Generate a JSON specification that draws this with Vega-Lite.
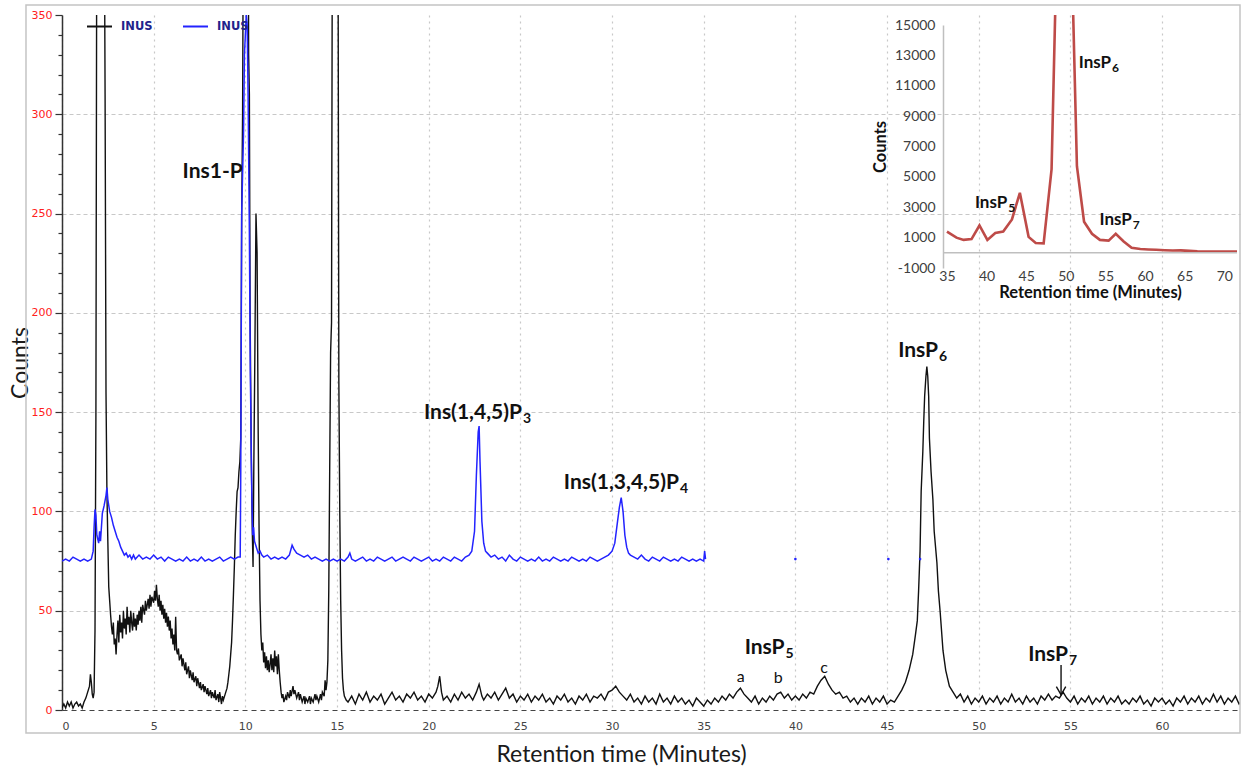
{
  "$schema": "https://vega.github.io/schema/vega-lite/v6.json",
  "width": 1178,
  "height": 695,
  "autosize": {"type": "none"},
  "padding": {"left": 62, "top": 15, "right": 2, "bottom": 60},
  "background": "white",
  "config": {"view": {"stroke": null}, "axis": {"labelOverlap": false}},
  "datasets": {
    "black": [
      {"t":0,"c":1},{"t":0.1,"c":3},{"t":0.2,"c":1},{"t":0.3,"c":4},{"t":0.4,"c":2},{"t":0.5,"c":4},{"t":0.6,"c":1},{"t":0.7,"c":3},{"t":0.8,"c":4},{"t":0.9,"c":2},{"t":1.0,"c":3},{"t":1.1,"c":1},{"t":1.2,"c":4},{"t":1.3,"c":6},{"t":1.4,"c":9},{"t":1.5,"c":12},{"t":1.55,"c":18},{"t":1.6,"c":14},{"t":1.65,"c":8},{"t":1.7,"c":6},{"t":1.75,"c":9},{"t":1.8,"c":40},{"t":1.85,"c":150},{"t":1.9,"c":420},{"t":2.3,"c":420},{"t":2.35,"c":310},{"t":2.4,"c":160},{"t":2.45,"c":110},{"t":2.5,"c":85},{"t":2.55,"c":62},{"t":2.6,"c":55},{"t":2.65,"c":48},{"t":2.7,"c":42},{"t":2.75,"c":38},{"t":2.8,"c":44},{"t":2.85,"c":33},{"t":2.9,"c":36},{"t":2.95,"c":28},{"t":3.0,"c":38},{"t":3.05,"c":45},{"t":3.1,"c":34},{"t":3.15,"c":48},{"t":3.2,"c":39},{"t":3.25,"c":44},{"t":3.3,"c":36},{"t":3.35,"c":50},{"t":3.4,"c":41},{"t":3.45,"c":46},{"t":3.5,"c":38},{"t":3.55,"c":52},{"t":3.6,"c":43},{"t":3.65,"c":47},{"t":3.7,"c":39},{"t":3.75,"c":50},{"t":3.8,"c":44},{"t":3.85,"c":40},{"t":3.9,"c":49},{"t":3.95,"c":42},{"t":4.0,"c":46},{"t":4.05,"c":40},{"t":4.1,"c":48},{"t":4.15,"c":43},{"t":4.2,"c":50},{"t":4.25,"c":45},{"t":4.3,"c":52},{"t":4.35,"c":44},{"t":4.4,"c":53},{"t":4.5,"c":48},{"t":4.55,"c":55},{"t":4.6,"c":50},{"t":4.7,"c":56},{"t":4.75,"c":51},{"t":4.8,"c":58},{"t":4.85,"c":52},{"t":4.9,"c":57},{"t":5.0,"c":54},{"t":5.05,"c":60},{"t":5.1,"c":55},{"t":5.15,"c":63},{"t":5.2,"c":56},{"t":5.25,"c":52},{"t":5.3,"c":58},{"t":5.35,"c":50},{"t":5.4,"c":55},{"t":5.45,"c":48},{"t":5.5,"c":53},{"t":5.55,"c":46},{"t":5.6,"c":51},{"t":5.65,"c":44},{"t":5.7,"c":49},{"t":5.75,"c":42},{"t":5.8,"c":47},{"t":5.85,"c":40},{"t":5.9,"c":45},{"t":5.95,"c":36},{"t":6.0,"c":41},{"t":6.05,"c":33},{"t":6.1,"c":38},{"t":6.15,"c":30},{"t":6.2,"c":47},{"t":6.25,"c":30},{"t":6.3,"c":28},{"t":6.35,"c":31},{"t":6.4,"c":25},{"t":6.5,"c":28},{"t":6.55,"c":22},{"t":6.6,"c":26},{"t":6.7,"c":20},{"t":6.75,"c":24},{"t":6.8,"c":18},{"t":6.9,"c":22},{"t":6.95,"c":16},{"t":7.0,"c":20},{"t":7.1,"c":15},{"t":7.15,"c":19},{"t":7.2,"c":14},{"t":7.3,"c":17},{"t":7.35,"c":12},{"t":7.4,"c":16},{"t":7.5,"c":11},{"t":7.55,"c":14},{"t":7.6,"c":10},{"t":7.7,"c":13},{"t":7.75,"c":9},{"t":7.8,"c":12},{"t":7.9,"c":8},{"t":7.95,"c":11},{"t":8.0,"c":7},{"t":8.1,"c":10},{"t":8.15,"c":6},{"t":8.2,"c":9},{"t":8.3,"c":6},{"t":8.35,"c":10},{"t":8.4,"c":5},{"t":8.5,"c":8},{"t":8.55,"c":4},{"t":8.6,"c":9},{"t":8.7,"c":3},{"t":8.75,"c":7},{"t":8.8,"c":5},{"t":8.9,"c":8},{"t":9.0,"c":11},{"t":9.05,"c":14},{"t":9.1,"c":18},{"t":9.15,"c":22},{"t":9.2,"c":28},{"t":9.25,"c":34},{"t":9.3,"c":45},{"t":9.35,"c":58},{"t":9.4,"c":72},{"t":9.45,"c":88},{"t":9.5,"c":100},{"t":9.55,"c":110},{"t":9.6,"c":112},{"t":9.65,"c":120},{"t":9.7,"c":125},{"t":9.75,"c":137},{"t":9.8,"c":250},{"t":9.85,"c":300},{"t":9.9,"c":420},{"t":10.15,"c":420},{"t":10.18,"c":330},{"t":10.22,"c":310},{"t":10.26,"c":200},{"t":10.32,"c":130},{"t":10.38,"c":90},{"t":10.42,"c":72},{"t":10.46,"c":120},{"t":10.52,"c":180},{"t":10.58,"c":250},{"t":10.64,"c":230},{"t":10.7,"c":140},{"t":10.75,"c":90},{"t":10.8,"c":55},{"t":10.85,"c":38},{"t":10.9,"c":30},{"t":10.95,"c":34},{"t":11.0,"c":24},{"t":11.05,"c":29},{"t":11.1,"c":21},{"t":11.15,"c":27},{"t":11.2,"c":20},{"t":11.25,"c":25},{"t":11.3,"c":19},{"t":11.35,"c":23},{"t":11.4,"c":28},{"t":11.45,"c":20},{"t":11.5,"c":26},{"t":11.55,"c":19},{"t":11.6,"c":30},{"t":11.65,"c":22},{"t":11.7,"c":27},{"t":11.75,"c":18},{"t":11.8,"c":28},{"t":11.85,"c":20},{"t":11.9,"c":14},{"t":11.95,"c":9},{"t":12.0,"c":6},{"t":12.05,"c":8},{"t":12.1,"c":4},{"t":12.2,"c":7},{"t":12.25,"c":5},{"t":12.3,"c":9},{"t":12.4,"c":6},{"t":12.45,"c":10},{"t":12.5,"c":7},{"t":12.6,"c":12},{"t":12.65,"c":8},{"t":12.7,"c":10},{"t":12.8,"c":6},{"t":12.9,"c":9},{"t":12.95,"c":5},{"t":13.0,"c":8},{"t":13.1,"c":4},{"t":13.2,"c":7},{"t":13.25,"c":3},{"t":13.3,"c":6},{"t":13.4,"c":4},{"t":13.5,"c":7},{"t":13.55,"c":3},{"t":13.6,"c":6},{"t":13.7,"c":4},{"t":13.8,"c":8},{"t":13.85,"c":5},{"t":13.9,"c":7},{"t":14.0,"c":4},{"t":14.1,"c":8},{"t":14.15,"c":5},{"t":14.2,"c":9},{"t":14.3,"c":7},{"t":14.35,"c":15},{"t":14.4,"c":10},{"t":14.45,"c":14},{"t":14.5,"c":25},{"t":14.55,"c":60},{"t":14.6,"c":120},{"t":14.65,"c":180},{"t":14.7,"c":195},{"t":14.75,"c":420},{"t":15.05,"c":420},{"t":15.1,"c":165},{"t":15.15,"c":100},{"t":15.2,"c":55},{"t":15.25,"c":30},{"t":15.3,"c":16},{"t":15.35,"c":10},{"t":15.4,"c":7},{"t":15.5,"c":5},
      {"t":15.6,"c":4},{"t":15.8,"c":7},{"t":16.0,"c":3},{"t":16.2,"c":8},{"t":16.4,"c":5},{"t":16.6,"c":9},{"t":16.8,"c":4},{"t":17.0,"c":7},{"t":17.2,"c":5},{"t":17.4,"c":8},{"t":17.6,"c":3},{"t":17.8,"c":6},{"t":18.0,"c":9},{"t":18.2,"c":5},{"t":18.4,"c":7},{"t":18.6,"c":4},{"t":18.8,"c":8},{"t":19.0,"c":6},{"t":19.2,"c":9},{"t":19.4,"c":5},{"t":19.6,"c":7},{"t":19.8,"c":4},{"t":20.0,"c":8},{"t":20.2,"c":6},{"t":20.4,"c":9},{"t":20.5,"c":12},{"t":20.6,"c":17},{"t":20.7,"c":9},{"t":20.8,"c":5},{"t":21.0,"c":7},{"t":21.2,"c":4},{"t":21.4,"c":8},{"t":21.6,"c":5},{"t":21.8,"c":9},{"t":22.0,"c":6},{"t":22.2,"c":8},{"t":22.4,"c":5},{"t":22.6,"c":9},{"t":22.75,"c":13},{"t":22.9,"c":7},{"t":23.0,"c":5},{"t":23.2,"c":8},{"t":23.4,"c":6},{"t":23.6,"c":9},{"t":23.8,"c":5},{"t":24.0,"c":8},{"t":24.2,"c":11},{"t":24.4,"c":6},{"t":24.6,"c":8},{"t":24.8,"c":4},{"t":25.0,"c":7},{"t":25.2,"c":5},{"t":25.4,"c":8},{"t":25.6,"c":4},{"t":25.8,"c":7},{"t":26.0,"c":5},{"t":26.2,"c":8},{"t":26.4,"c":4},{"t":26.6,"c":6},{"t":26.8,"c":3},{"t":27.0,"c":7},{"t":27.2,"c":5},{"t":27.4,"c":8},{"t":27.6,"c":4},{"t":27.8,"c":6},{"t":28.0,"c":3},{"t":28.2,"c":7},{"t":28.4,"c":5},{"t":28.6,"c":8},{"t":28.8,"c":4},{"t":29.0,"c":7},{"t":29.2,"c":6},{"t":29.4,"c":8},{"t":29.6,"c":5},{"t":29.8,"c":9},{"t":30.0,"c":10},{"t":30.2,"c":12},{"t":30.4,"c":9},{"t":30.6,"c":7},{"t":30.8,"c":5},{"t":31.0,"c":8},{"t":31.2,"c":4},{"t":31.4,"c":6},{"t":31.6,"c":3},{"t":31.8,"c":7},{"t":32.0,"c":4},{"t":32.2,"c":6},{"t":32.4,"c":3},{"t":32.6,"c":8},{"t":32.8,"c":4},{"t":33.0,"c":6},{"t":33.2,"c":3},{"t":33.4,"c":7},{"t":33.6,"c":4},{"t":33.8,"c":6},{"t":34.0,"c":3},{"t":34.2,"c":5},{"t":34.4,"c":2},{"t":34.6,"c":6},{"t":34.8,"c":4},{"t":35.0,"c":2},{"t":35.2,"c":5},{"t":35.4,"c":3},{"t":35.6,"c":6},{"t":35.8,"c":4},{"t":36.0,"c":7},{"t":36.2,"c":5},{"t":36.4,"c":8},{"t":36.6,"c":6},{"t":36.8,"c":9},{"t":37.0,"c":11},{"t":37.2,"c":8},{"t":37.4,"c":6},{"t":37.6,"c":4},{"t":37.8,"c":7},{"t":38.0,"c":3},{"t":38.2,"c":6},{"t":38.4,"c":4},{"t":38.6,"c":7},{"t":38.8,"c":5},{"t":39.0,"c":8},{"t":39.2,"c":9},{"t":39.4,"c":6},{"t":39.6,"c":8},{"t":39.8,"c":5},{"t":40.0,"c":7},{"t":40.2,"c":5},{"t":40.4,"c":8},{"t":40.6,"c":6},{"t":40.8,"c":9},{"t":41.0,"c":8},{"t":41.2,"c":12},{"t":41.4,"c":15},{"t":41.6,"c":17},{"t":41.8,"c":13},{"t":42.0,"c":10},{"t":42.2,"c":8},{"t":42.4,"c":9},{"t":42.6,"c":6},{"t":42.8,"c":7},{"t":43.0,"c":4},{"t":43.2,"c":6},{"t":43.4,"c":3},{"t":43.6,"c":6},{"t":43.8,"c":4},{"t":44.0,"c":7},{"t":44.2,"c":3},{"t":44.4,"c":6},{"t":44.6,"c":4},{"t":44.8,"c":7},{"t":45.0,"c":3},{"t":45.2,"c":5},{"t":45.4,"c":4},{"t":45.6,"c":7},{"t":45.8,"c":10},{"t":46.0,"c":14},{"t":46.2,"c":20},{"t":46.4,"c":28},{"t":46.55,"c":38},{"t":46.65,"c":45},{"t":46.72,"c":60},{"t":46.8,"c":80},{"t":46.86,"c":110},{"t":46.95,"c":130},{"t":47.0,"c":145},{"t":47.05,"c":158},{"t":47.12,"c":168},{"t":47.17,"c":173},{"t":47.22,"c":168},{"t":47.27,"c":158},{"t":47.31,"c":137},{"t":47.4,"c":120},{"t":47.5,"c":106},{"t":47.57,"c":90},{"t":47.72,"c":74},{"t":47.8,"c":60},{"t":47.9,"c":49},{"t":48.05,"c":30},{"t":48.2,"c":20},{"t":48.4,"c":12},{"t":48.6,"c":9},{"t":48.8,"c":6},{"t":49.0,"c":8},{"t":49.2,"c":4},{"t":49.4,"c":7},{"t":49.6,"c":3},{"t":49.8,"c":6},{"t":50.0,"c":4},{"t":50.2,"c":7},{"t":50.4,"c":3},{"t":50.6,"c":6},{"t":50.8,"c":4},{"t":51.0,"c":7},{"t":51.2,"c":3},{"t":51.4,"c":6},{"t":51.6,"c":4},{"t":51.8,"c":8},{"t":52.0,"c":4},{"t":52.2,"c":6},{"t":52.4,"c":3},{"t":52.6,"c":7},{"t":52.8,"c":4},{"t":53.0,"c":6},{"t":53.2,"c":3},{"t":53.4,"c":7},{"t":53.6,"c":5},{"t":53.8,"c":8},{"t":54.0,"c":5},{"t":54.2,"c":7},{"t":54.4,"c":6},{"t":54.6,"c":9},{"t":54.8,"c":6},{"t":55.0,"c":4},{"t":55.2,"c":7},{"t":55.4,"c":3},{"t":55.6,"c":6},{"t":55.8,"c":4},{"t":56.0,"c":7},{"t":56.2,"c":3},{"t":56.4,"c":6},{"t":56.6,"c":4},{"t":56.8,"c":7},{"t":57.0,"c":3},{"t":57.2,"c":6},{"t":57.4,"c":4},{"t":57.6,"c":7},{"t":57.8,"c":3},{"t":58.0,"c":5},{"t":58.2,"c":3},{"t":58.4,"c":6},{"t":58.6,"c":4},{"t":58.8,"c":7},{"t":59.0,"c":3},{"t":59.2,"c":5},{"t":59.4,"c":2},{"t":59.6,"c":6},{"t":59.8,"c":4},{"t":60.0,"c":6},{"t":60.2,"c":3},{"t":60.4,"c":5},{"t":60.6,"c":2},{"t":60.8,"c":6},{"t":61.0,"c":4},{"t":61.2,"c":7},{"t":61.4,"c":3},{"t":61.6,"c":6},{"t":61.8,"c":4},{"t":62.0,"c":7},{"t":62.2,"c":3},{"t":62.4,"c":6},{"t":62.6,"c":4},{"t":62.8,"c":8},{"t":63.0,"c":4},{"t":63.2,"c":7},{"t":63.4,"c":3},{"t":63.6,"c":6},{"t":63.8,"c":4},{"t":64.0,"c":7},{"t":64.2,"c":3},{"t":64.4,"c":5}
    ],
    "blue": [
      {"t":0,"c":75},{"t":0.2,"c":76},{"t":0.4,"c":75},{"t":0.6,"c":77},{"t":0.8,"c":76},{"t":1.0,"c":75},{"t":1.2,"c":76},{"t":1.4,"c":75},{"t":1.6,"c":76},{"t":1.7,"c":80},{"t":1.75,"c":92},{"t":1.8,"c":101},{"t":1.85,"c":98},{"t":1.9,"c":88},{"t":2.0,"c":84},{"t":2.05,"c":90},{"t":2.1,"c":85},{"t":2.2,"c":99},{"t":2.3,"c":103},{"t":2.4,"c":108},{"t":2.45,"c":112},{"t":2.5,"c":106},{"t":2.6,"c":100},{"t":2.7,"c":97},{"t":2.8,"c":93},{"t":2.9,"c":90},{"t":3.0,"c":87},{"t":3.1,"c":85},{"t":3.2,"c":82},{"t":3.3,"c":80},{"t":3.4,"c":78},{"t":3.5,"c":79},{"t":3.6,"c":77},{"t":3.7,"c":78},{"t":3.8,"c":76},{"t":3.9,"c":78},{"t":4.0,"c":76},{"t":4.2,"c":78},{"t":4.4,"c":76},{"t":4.6,"c":77},{"t":4.8,"c":76},{"t":5.0,"c":78},{"t":5.2,"c":76},{"t":5.4,"c":77},{"t":5.6,"c":75},{"t":5.8,"c":77},{"t":6.0,"c":76},{"t":6.2,"c":75},{"t":6.4,"c":76},{"t":6.6,"c":75},{"t":6.8,"c":77},{"t":7.0,"c":75},{"t":7.2,"c":76},{"t":7.4,"c":75},{"t":7.6,"c":77},{"t":7.8,"c":75},{"t":8.0,"c":76},{"t":8.2,"c":75},{"t":8.4,"c":76},{"t":8.6,"c":77},{"t":8.8,"c":75},{"t":9.0,"c":76},{"t":9.2,"c":77},{"t":9.4,"c":76},{"t":9.6,"c":77},{"t":9.72,"c":77},{"t":9.75,"c":120},{"t":9.8,"c":250},{"t":9.9,"c":290},{"t":9.95,"c":330},{"t":10.05,"c":350},{"t":10.1,"c":345},{"t":10.15,"c":310},{"t":10.22,"c":240},{"t":10.27,"c":170},{"t":10.3,"c":150},{"t":10.35,"c":110},{"t":10.4,"c":88},{"t":10.45,"c":92},{"t":10.5,"c":85},{"t":10.6,"c":82},{"t":10.7,"c":79},{"t":10.8,"c":80},{"t":10.9,"c":78},{"t":11.0,"c":77},{"t":11.2,"c":78},{"t":11.4,"c":76},{"t":11.6,"c":77},{"t":11.8,"c":76},{"t":12.0,"c":77},{"t":12.2,"c":76},{"t":12.4,"c":78},{"t":12.55,"c":83},{"t":12.65,"c":81},{"t":12.8,"c":79},{"t":13.0,"c":78},{"t":13.2,"c":77},{"t":13.4,"c":78},{"t":13.6,"c":76},{"t":13.8,"c":77},{"t":14.0,"c":76},{"t":14.2,"c":75},{"t":14.4,"c":76},{"t":14.6,"c":75},{"t":14.8,"c":76},{"t":15.0,"c":75},{"t":15.2,"c":76},{"t":15.4,"c":75},{"t":15.6,"c":77},{"t":15.7,"c":79},{"t":15.8,"c":76},{"t":16.0,"c":75},{"t":16.2,"c":76},{"t":16.4,"c":77},{"t":16.6,"c":75},{"t":16.8,"c":76},{"t":17.0,"c":75},{"t":17.2,"c":77},{"t":17.4,"c":76},{"t":17.6,"c":75},{"t":17.8,"c":76},{"t":18.0,"c":77},{"t":18.2,"c":75},{"t":18.4,"c":76},{"t":18.6,"c":77},{"t":18.8,"c":76},{"t":19.0,"c":75},{"t":19.2,"c":77},{"t":19.4,"c":76},{"t":19.6,"c":75},{"t":19.8,"c":76},{"t":20.0,"c":77},{"t":20.2,"c":75},{"t":20.4,"c":76},{"t":20.6,"c":75},{"t":20.8,"c":77},{"t":21.0,"c":76},{"t":21.2,"c":75},{"t":21.4,"c":77},{"t":21.6,"c":76},{"t":21.8,"c":75},{"t":22.0,"c":77},{"t":22.2,"c":78},{"t":22.35,"c":80},{"t":22.5,"c":90},{"t":22.6,"c":118},{"t":22.7,"c":140},{"t":22.75,"c":143},{"t":22.8,"c":125},{"t":22.9,"c":95},{"t":23.0,"c":84},{"t":23.1,"c":80},{"t":23.2,"c":79},{"t":23.4,"c":77},{"t":23.6,"c":78},{"t":23.8,"c":76},{"t":24.0,"c":77},{"t":24.2,"c":75},{"t":24.4,"c":78},{"t":24.6,"c":76},{"t":24.8,"c":75},{"t":25.0,"c":77},{"t":25.2,"c":76},{"t":25.4,"c":75},{"t":25.6,"c":76},{"t":25.8,"c":75},{"t":26.0,"c":77},{"t":26.2,"c":75},{"t":26.4,"c":76},{"t":26.6,"c":75},{"t":26.8,"c":77},{"t":27.0,"c":76},{"t":27.2,"c":75},{"t":27.4,"c":76},{"t":27.6,"c":75},{"t":27.8,"c":77},{"t":28.0,"c":76},{"t":28.2,"c":75},{"t":28.4,"c":76},{"t":28.6,"c":75},{"t":28.8,"c":77},{"t":29.0,"c":76},{"t":29.2,"c":75},{"t":29.4,"c":76},{"t":29.6,"c":77},{"t":29.8,"c":78},{"t":30.0,"c":80},{"t":30.15,"c":84},{"t":30.3,"c":95},{"t":30.4,"c":102},{"t":30.5,"c":107},{"t":30.6,"c":100},{"t":30.7,"c":88},{"t":30.8,"c":82},{"t":30.9,"c":79},{"t":31.0,"c":78},{"t":31.2,"c":77},{"t":31.4,"c":76},{"t":31.6,"c":78},{"t":31.8,"c":76},{"t":32.0,"c":75},{"t":32.2,"c":77},{"t":32.4,"c":76},{"t":32.6,"c":75},{"t":32.8,"c":77},{"t":33.0,"c":76},{"t":33.2,"c":75},{"t":33.4,"c":76},{"t":33.6,"c":75},{"t":33.8,"c":77},{"t":34.0,"c":76},{"t":34.2,"c":75},{"t":34.4,"c":76},{"t":34.6,"c":75},{"t":34.8,"c":76},{"t":35.0,"c":75},{"t":35.05,"c":80},{"t":35.1,"c":76}
    ],
    "bluedots": [{"t":40.0,"c":76},{"t":45.07,"c":76},{"t":46.8,"c":76}],
    "red": [
      {"t":35.0,"c":1400},{"t":36.2,"c":1000},{"t":37.1,"c":850},{"t":38.1,"c":900},{"t":39.1,"c":1800},{"t":40.1,"c":850},{"t":41.1,"c":1300},{"t":42.1,"c":1400},{"t":43.2,"c":2200},{"t":44.2,"c":3950},{"t":45.3,"c":1050},{"t":46.2,"c":650},{"t":47.2,"c":620},{"t":48.2,"c":5500},{"t":49.2,"c":28000},{"t":50.3,"c":29000},{"t":51.4,"c":5700},{"t":52.3,"c":2050},{"t":53.3,"c":1250},{"t":54.3,"c":850},{"t":55.4,"c":800},{"t":56.3,"c":1250},{"t":57.3,"c":750},{"t":58.3,"c":330},{"t":59.4,"c":250},{"t":60.4,"c":220},{"t":61.4,"c":200},{"t":62.5,"c":170},{"t":63.5,"c":150},{"t":64.5,"c":160},{"t":65.6,"c":130},{"t":66.6,"c":100},{"t":67.6,"c":90},{"t":68.7,"c":85},{"t":69.7,"c":80},{"t":70.7,"c":80},{"t":71.6,"c":75}
    ],
    "mainlabels": [
      {"label":"Ins1-P","sub":"","t":9.86,"c":267.8},
      {"label":"Ins(1,4,5)P","sub":"3","t":25.09,"c":146.3},
      {"label":"Ins(1,3,4,5)P","sub":"4","t":33.65,"c":111.4},
      {"label":"InsP","sub":"6","t":47.78,"c":177.6},
      {"label":"InsP","sub":"5","t":39.41,"c":28.2},
      {"label":"InsP","sub":"7","t":54.87,"c":24.8}
    ],
    "letters": [
      {"label":"a","t":37.02,"c":14.3},
      {"label":"b","t":39.07,"c":13.4},
      {"label":"c","t":41.57,"c":18.4}
    ],
    "insetlabels": [
      {"label":"InsP","sub":"6","t":55.7,"c":12200},
      {"label":"InsP","sub":"5","t":42.6,"c":2960},
      {"label":"InsP","sub":"7","t":58.32,"c":1860}
    ]
  },
  "layer": [
    {
      "layer": [
        {
          "data": {"name": "black"},
          "mark": {"type": "line", "clip": true, "strokeWidth": 1.4},
          "encoding": {
            "x": {"field": "t", "type": "quantitative", "title": "Retention time (Minutes)",
              "scale": {"domain": [0, 64.25], "nice": false, "zero": false},
              "axis": {
                "values": [0,5,10,15,20,25,30,35,40,45,50,55,60],
                "domain": false, "ticks": false, "labelOverlap": false,
                "labelFont": "DejaVu Sans", "labelFontSize": 11, "labelColor": "#444444", "labelPadding": 10,
                "grid": true, "gridColor": "#c8c8c8", "gridDash": [2, 4], "gridWidth": 1.2,
                "titleFont": "Lato", "titleFontSize": 23, "titleFontWeight": "normal", "titleColor": "#1a1a1a",
                "titlePadding": 12, "titleX": 559, "titleAlign": "center"
              }
            },
            "y": {"field": "c", "type": "quantitative", "title": "Counts",
              "scale": {"domain": [0, 350], "nice": false},
              "axis": {
                "values": [0,50,100,150,200,250,300,350],
                "labelOverlap": false, "labelBound": false, "labelFlush": false,
                "domain": true, "domainColor": "#333333", "domainWidth": 1.5,
                "ticks": true, "tickColor": "#333333", "tickWidth": 1.2, "tickSize": 7,
                "labelFont": "DejaVu Sans", "labelFontSize": 11, "labelColor": "#ff2020", "labelPadding": 3,
                "grid": true,
                "gridOpacity": {"condition": {"test": "datum.value > 340", "value": 0}, "value": 1},
                "gridColor": {"condition": {"test": "datum.value < 1", "value": "#444444"}, "value": "#c8c8c8"},
                "gridDash": {"condition": {"test": "datum.value < 1", "value": [5, 4]}, "value": [4, 3]},
                "gridWidth": 1.2,
                "titleFont": "Lato", "titleFontSize": 23, "titleFontWeight": "normal", "titleColor": "#1a1a1a",
                "titlePadding": -1
              }
            },
            "color": {"datum": "INUS-A", "type": "nominal",
              "scale": {"domain": ["INUS-A", "INUS-B"], "range": ["#111111", "#2323ff"]},
              "legend": {
                "orient": "none", "legendX": 24, "legendY": -2, "direction": "horizontal", "title": null,
                "symbolType": "stroke", "symbolSize": 625, "symbolStrokeWidth": 2,
                "labelExpr": "'INUS'", "labelFont": "DejaVu Sans", "labelFontWeight": "bold", "labelFontSize": 11.5,
                "labelColor": "#22228c", "labelOffset": 8, "columnPadding": 26, "padding": 0
              }
            }
          }
        },
        {
          "data": {"values": [{}]},
          "mark": {"type": "rect", "filled": false, "color": "#c4c4c4", "strokeWidth": 1.5},
          "encoding": {
            "x": {"datum": -1.964, "type": "quantitative", "title": "Retention time (Minutes)"},
            "x2": {"datum": 64.25},
            "y": {"datum": -11.58, "type": "quantitative", "title": "Counts"},
            "y2": {"datum": 355.04}
          }
        },
        {
          "data": {"name": "blue"},
          "mark": {"type": "line", "clip": true, "strokeWidth": 1.5},
          "encoding": {
            "x": {"field": "t", "type": "quantitative", "title": "Retention time (Minutes)"},
            "y": {"field": "c", "type": "quantitative", "title": "Counts"},
            "color": {"datum": "INUS-B", "type": "nominal"}
          }
        },
        {
          "data": {"name": "bluedots"},
          "mark": {"type": "point", "filled": true, "size": 7, "color": "#2323ff", "opacity": 1},
          "encoding": {
            "x": {"field": "t", "type": "quantitative", "title": "Retention time (Minutes)"},
            "y": {"field": "c", "type": "quantitative", "title": "Counts"}
          }
        },
        {
          "data": {"name": "mainlabels"},
          "mark": {"type": "text", "align": "right", "baseline": "alphabetic", "font": "Lato", "fontSize": 21, "fontWeight": "bold", "color": "#111111"},
          "encoding": {
            "x": {"field": "t", "type": "quantitative", "title": "Retention time (Minutes)"},
            "y": {"field": "c", "type": "quantitative", "title": "Counts"},
            "text": {"field": "label"}
          }
        },
        {
          "data": {"name": "mainlabels"},
          "mark": {"type": "text", "align": "left", "baseline": "alphabetic", "dx": 1, "dy": 4, "font": "Lato", "fontSize": 14, "fontWeight": "bold", "color": "#111111"},
          "encoding": {
            "x": {"field": "t", "type": "quantitative", "title": "Retention time (Minutes)"},
            "y": {"field": "c", "type": "quantitative", "title": "Counts"},
            "text": {"field": "sub"}
          }
        },
        {
          "data": {"name": "letters"},
          "mark": {"type": "text", "align": "center", "baseline": "alphabetic", "font": "Lato", "fontSize": 16, "color": "#111111"},
          "encoding": {
            "x": {"field": "t", "type": "quantitative", "title": "Retention time (Minutes)"},
            "y": {"field": "c", "type": "quantitative", "title": "Counts"},
            "text": {"field": "label"}
          }
        },
        {
          "data": {"values": [{}]},
          "mark": {"type": "rule", "color": "#111111", "strokeWidth": 1.4},
          "encoding": {
            "x": {"datum": 54.49, "type": "quantitative", "title": "Retention time (Minutes)"},
            "y": {"datum": 22.7, "type": "quantitative", "title": "Counts"},
            "y2": {"datum": 7.6}
          }
        },
        {
          "data": {"values": [{}]},
          "mark": {"type": "point", "shape": "M-1,-1.77L0,0L1,-1.77", "filled": false, "size": 88, "color": "#111111", "strokeWidth": 1.4, "opacity": 1},
          "encoding": {
            "x": {"datum": 54.49, "type": "quantitative", "title": "Retention time (Minutes)"},
            "y": {"datum": 7.6, "type": "quantitative", "title": "Counts"}
          }
        }
      ]
    },
    {
      "layer": [
        {
          "data": {"name": "red"},
          "mark": {"type": "line", "clip": true, "color": "#be4b48", "strokeWidth": 2.6},
          "encoding": {
            "x": {"field": "t", "type": "quantitative", "title": "Retention time (Minutes)",
              "scale": {"domain": [34.5, 71.6], "range": [881, 1175], "nice": false, "zero": false},
              "axis": {
                "orient": "bottom", "offset": -442,
                "values": [35,40,45,50,55,60,65,70], "format": "d", "labelOverlap": false,
                "domain": false, "ticks": false, "grid": false,
                "labelFont": "Lato", "labelFontSize": 14, "labelColor": "#404040", "labelPadding": 1,
                "titleFont": "Lato", "titleFontSize": 16.5, "titleFontWeight": "bold", "titleColor": "#111111", "titlePadding": 1
              }
            },
            "y": {"field": "c", "type": "quantitative", "title": "Counts",
              "scale": {"domain": [-1000, 15000], "range": [253, 10], "nice": false, "zero": false},
              "axis": {
                "orient": "left", "offset": -881,
                "values": [-1000,1000,3000,5000,7000,9000,11000,13000,15000],
                "format": "d", "labelExpr": "replace(datum.label, '\u2212', '-')", "labelOverlap": false,
                "domain": true, "domainColor": "#bfbfbf", "domainWidth": 1.5,
                "ticks": false, "grid": false,
                "labelFont": "Lato", "labelFontSize": 14, "labelColor": "#404040", "labelPadding": 8,
                "titleFont": "Lato", "titleFontSize": 16.5, "titleFontWeight": "bold", "titleColor": "#111111", "titlePadding": 6
              }
            }
          }
        },
        {
          "data": {"values": [{}]},
          "mark": {"type": "rule", "color": "#bfbfbf", "strokeWidth": 1.5},
          "encoding": {
            "x": {"datum": 34.5, "type": "quantitative", "title": "Retention time (Minutes)"},
            "x2": {"datum": 71.6},
            "y": {"datum": 0, "type": "quantitative", "title": "Counts"}
          }
        },
        {
          "data": {"name": "insetlabels"},
          "mark": {"type": "text", "align": "right", "baseline": "alphabetic", "font": "Lato", "fontSize": 17, "fontWeight": "bold", "color": "#111111"},
          "encoding": {
            "x": {"field": "t", "type": "quantitative", "title": "Retention time (Minutes)"},
            "y": {"field": "c", "type": "quantitative", "title": "Counts"},
            "text": {"field": "label"}
          }
        },
        {
          "data": {"name": "insetlabels"},
          "mark": {"type": "text", "align": "left", "baseline": "alphabetic", "dx": 1, "dy": 4, "font": "Lato", "fontSize": 12, "fontWeight": "bold", "color": "#111111"},
          "encoding": {
            "x": {"field": "t", "type": "quantitative", "title": "Retention time (Minutes)"},
            "y": {"field": "c", "type": "quantitative", "title": "Counts"},
            "text": {"field": "sub"}
          }
        }
      ]
    },
    {
      "data": {"values": [{}]},
      "mark": {"type": "point", "opacity": 0},
      "encoding": {
        "y": {"datum": 0, "type": "quantitative",
          "scale": {"domain": [0, 350], "nice": false},
          "axis": {
            "orient": "left", "title": null,
            "values": [10,20,30,40,60,70,80,90,110,120,130,140,160,170,180,190,210,220,230,240,260,270,280,290,310,320,330,340],
            "labels": false, "domain": false, "grid": false,
            "ticks": true, "tickSize": 4, "tickColor": "#333333", "tickWidth": 1.2
          }
        }
      }
    }
  ],
  "resolve": {
    "scale": {"x": "independent", "y": "independent"},
    "axis": {"x": "independent", "y": "independent"}
  }
}
